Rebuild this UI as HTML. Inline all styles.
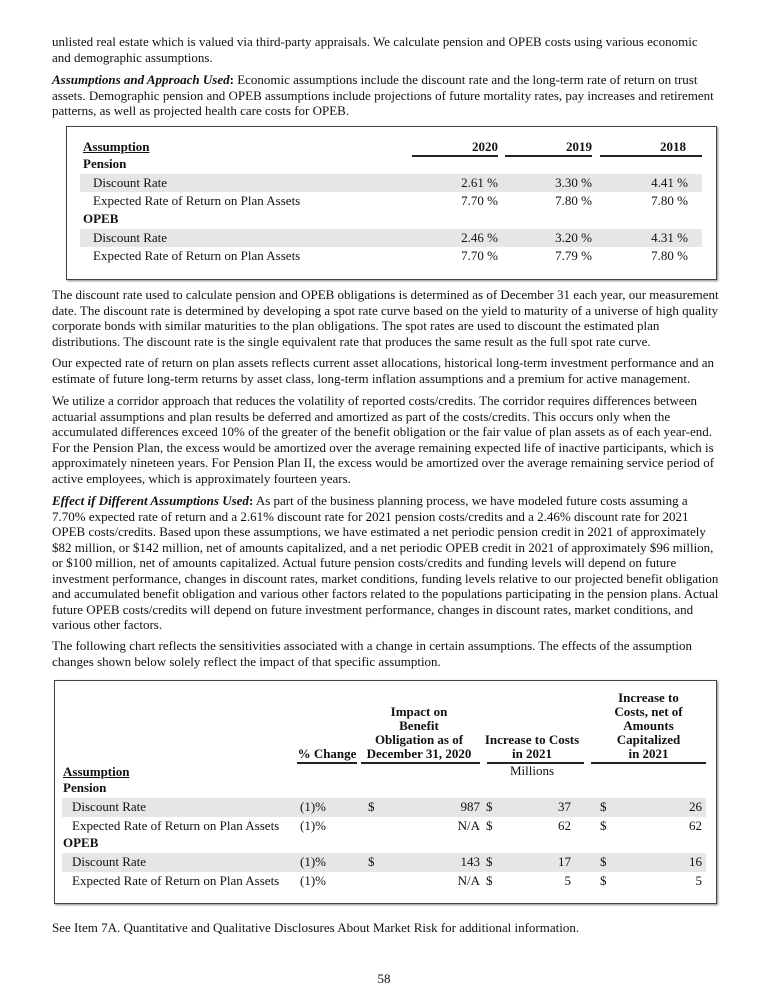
<!DOCTYPE html>
<html><head><meta charset="utf-8"><style>
body{margin:0;width:768px;height:1000px;background:#fff;position:relative;font-family:"Liberation Serif",serif;font-size:13px;color:#111;overflow:hidden}
.a{position:absolute;white-space:nowrap;line-height:16px}
.p{position:absolute;left:52px;white-space:nowrap;line-height:15.5px}
.box{position:absolute;border:1px solid #444;box-shadow:1px 1px 2px #888}
.sh{position:absolute;background:#e6e6e6}
.ul{position:absolute;height:1.5px;background:#222}
.b{font-weight:bold}
.r{text-align:right}
.c{text-align:center}
</style></head><body>
<div class="p" style="top:34px">unlisted real estate which is valued via third-party appraisals. We calculate pension and OPEB costs using various economic<br>and demographic assumptions.</div>
<div class="p" style="top:72px"><b><i>Assumptions and Approach Used</i>:</b> Economic assumptions include the discount rate and the long-term rate of return on trust<br>assets. Demographic pension and OPEB assumptions include projections of future mortality rates, pay increases and retirement<br>patterns, as well as projected health care costs for OPEB.</div>

<div class="box" style="left:66px;top:126px;width:649px;height:152px"></div>
<div class="sh" style="left:80px;top:174px;width:622px;height:18px"></div>
<div class="sh" style="left:80px;top:229px;width:622px;height:18px"></div>
<div class="a b" style="left:83px;top:139px;text-decoration:underline">Assumption</div>
<div class="a b r" style="left:412px;width:86px;top:139px">2020</div>
<div class="a b r" style="left:505px;width:87px;top:139px">2019</div>
<div class="a b r" style="left:600px;width:86px;top:139px">2018</div>
<div class="ul" style="left:412px;width:86px;top:155px"></div>
<div class="ul" style="left:505px;width:87px;top:155px"></div>
<div class="ul" style="left:600px;width:102px;top:155px"></div>
<div class="a b" style="left:83px;top:156px">Pension</div>
<div class="a" style="left:93px;top:175px">Discount Rate</div>
<div class="a" style="left:93px;top:193px">Expected Rate of Return on Plan Assets</div>
<div class="a b" style="left:83px;top:211px">OPEB</div>
<div class="a" style="left:93px;top:230px">Discount Rate</div>
<div class="a" style="left:93px;top:248px">Expected Rate of Return on Plan Assets</div>
<div class="a r" style="left:400px;width:98px;top:175px">2.61 %</div>
<div class="a r" style="left:494px;width:98px;top:175px">3.30 %</div>
<div class="a r" style="left:590px;width:98px;top:175px">4.41 %</div>
<div class="a r" style="left:400px;width:98px;top:193px">7.70 %</div>
<div class="a r" style="left:494px;width:98px;top:193px">7.80 %</div>
<div class="a r" style="left:590px;width:98px;top:193px">7.80 %</div>
<div class="a r" style="left:400px;width:98px;top:230px">2.46 %</div>
<div class="a r" style="left:494px;width:98px;top:230px">3.20 %</div>
<div class="a r" style="left:590px;width:98px;top:230px">4.31 %</div>
<div class="a r" style="left:400px;width:98px;top:248px">7.70 %</div>
<div class="a r" style="left:494px;width:98px;top:248px">7.79 %</div>
<div class="a r" style="left:590px;width:98px;top:248px">7.80 %</div>

<div class="p" style="top:287px">The discount rate used to calculate pension and OPEB obligations is determined as of December 31 each year, our measurement<br>date. The discount rate is determined by developing a spot rate curve based on the yield to maturity of a universe of high quality<br>corporate bonds with similar maturities to the plan obligations. The spot rates are used to discount the estimated plan<br>distributions. The discount rate is the single equivalent rate that produces the same result as the full spot rate curve.</div>
<div class="p" style="top:355px">Our expected rate of return on plan assets reflects current asset allocations, historical long-term investment performance and an<br>estimate of future long-term returns by asset class, long-term inflation assumptions and a premium for active management.</div>
<div class="p" style="top:393px">We utilize a corridor approach that reduces the volatility of reported costs/credits. The corridor requires differences between<br>actuarial assumptions and plan results be deferred and amortized as part of the costs/credits. This occurs only when the<br>accumulated differences exceed 10% of the greater of the benefit obligation or the fair value of plan assets as of each year-end.<br>For the Pension Plan, the excess would be amortized over the average remaining expected life of inactive participants, which is<br>approximately nineteen years. For Pension Plan II, the excess would be amortized over the average remaining service period of<br>active employees, which is approximately fourteen years.</div>
<div class="p" style="top:493px"><b><i>Effect if Different Assumptions Used</i>:</b> As part of the business planning process, we have modeled future costs assuming a<br>7.70% expected rate of return and a 2.61% discount rate for 2021 pension costs/credits and a 2.46% discount rate for 2021<br>OPEB costs/credits. Based upon these assumptions, we have estimated a net periodic pension credit in 2021 of approximately<br>$82 million, or $142 million, net of amounts capitalized, and a net periodic OPEB credit in 2021 of approximately $96 million,<br>or $100 million, net of amounts capitalized. Actual future pension costs/credits and funding levels will depend on future<br>investment performance, changes in discount rates, market conditions, funding levels relative to our projected benefit obligation<br>and accumulated benefit obligation and various other factors related to the populations participating in the pension plans. Actual<br>future OPEB costs/credits will depend on future investment performance, changes in discount rates, market conditions, and<br>various other factors.</div>
<div class="p" style="top:638px">The following chart reflects the sensitivities associated with a change in certain assumptions. The effects of the assumption<br>changes shown below solely reflect the impact of that specific assumption.</div>

<div class="box" style="left:54px;top:680px;width:661px;height:222px"></div>
<div class="sh" style="left:62px;top:798px;width:644px;height:19px"></div>
<div class="sh" style="left:62px;top:853px;width:644px;height:19px"></div>
<div class="a b c" style="left:297px;width:60px;top:747px;line-height:14px">% Change</div>
<div class="a b c" style="left:358px;width:122px;top:705px;line-height:14px">Impact on<br>Benefit<br>Obligation as of<br>December 31, 2020</div>
<div class="a b c" style="left:484px;width:96px;top:733px;line-height:14px">Increase to Costs<br>in 2021</div>
<div class="a b c" style="left:591px;width:115px;top:691px;line-height:14px">Increase to<br>Costs, net of<br>Amounts<br>Capitalized<br>in 2021</div>
<div class="ul" style="left:297px;width:60px;top:762px"></div>
<div class="ul" style="left:361px;width:119px;top:762px"></div>
<div class="ul" style="left:487px;width:97px;top:762px"></div>
<div class="ul" style="left:591px;width:115px;top:762px"></div>
<div class="a c" style="left:484px;width:96px;top:763px">Millions</div>
<div class="a b" style="left:63px;top:764px;text-decoration:underline">Assumption</div>
<div class="a b" style="left:63px;top:780px">Pension</div>
<div class="a" style="left:72px;top:799px">Discount Rate</div>
<div class="a" style="left:72px;top:818px">Expected Rate of Return on Plan Assets</div>
<div class="a b" style="left:63px;top:835px">OPEB</div>
<div class="a" style="left:72px;top:854px">Discount Rate</div>
<div class="a" style="left:72px;top:873px">Expected Rate of Return on Plan Assets</div>

<div class="a" style="left:300px;top:799px">(1)%</div>
<div class="a" style="left:368px;top:799px">$</div>
<div class="a r" style="left:420px;width:60px;top:799px">987</div>
<div class="a" style="left:486px;top:799px">$</div>
<div class="a r" style="left:520px;width:51px;top:799px">37</div>
<div class="a" style="left:600px;top:799px">$</div>
<div class="a r" style="left:650px;width:52px;top:799px">26</div>

<div class="a" style="left:300px;top:818px">(1)%</div>
<div class="a r" style="left:420px;width:60px;top:818px">N/A</div>
<div class="a" style="left:486px;top:818px">$</div>
<div class="a r" style="left:520px;width:51px;top:818px">62</div>
<div class="a" style="left:600px;top:818px">$</div>
<div class="a r" style="left:650px;width:52px;top:818px">62</div>

<div class="a" style="left:300px;top:854px">(1)%</div>
<div class="a" style="left:368px;top:854px">$</div>
<div class="a r" style="left:420px;width:60px;top:854px">143</div>
<div class="a" style="left:486px;top:854px">$</div>
<div class="a r" style="left:520px;width:51px;top:854px">17</div>
<div class="a" style="left:600px;top:854px">$</div>
<div class="a r" style="left:650px;width:52px;top:854px">16</div>

<div class="a" style="left:300px;top:873px">(1)%</div>
<div class="a r" style="left:420px;width:60px;top:873px">N/A</div>
<div class="a" style="left:486px;top:873px">$</div>
<div class="a r" style="left:520px;width:51px;top:873px">5</div>
<div class="a" style="left:600px;top:873px">$</div>
<div class="a r" style="left:650px;width:52px;top:873px">5</div>

<div class="p" style="top:920px">See Item 7A. Quantitative and Qualitative Disclosures About Market Risk for additional information.</div>
<div class="a c" style="left:354px;width:60px;top:971px">58</div>
</body></html>
